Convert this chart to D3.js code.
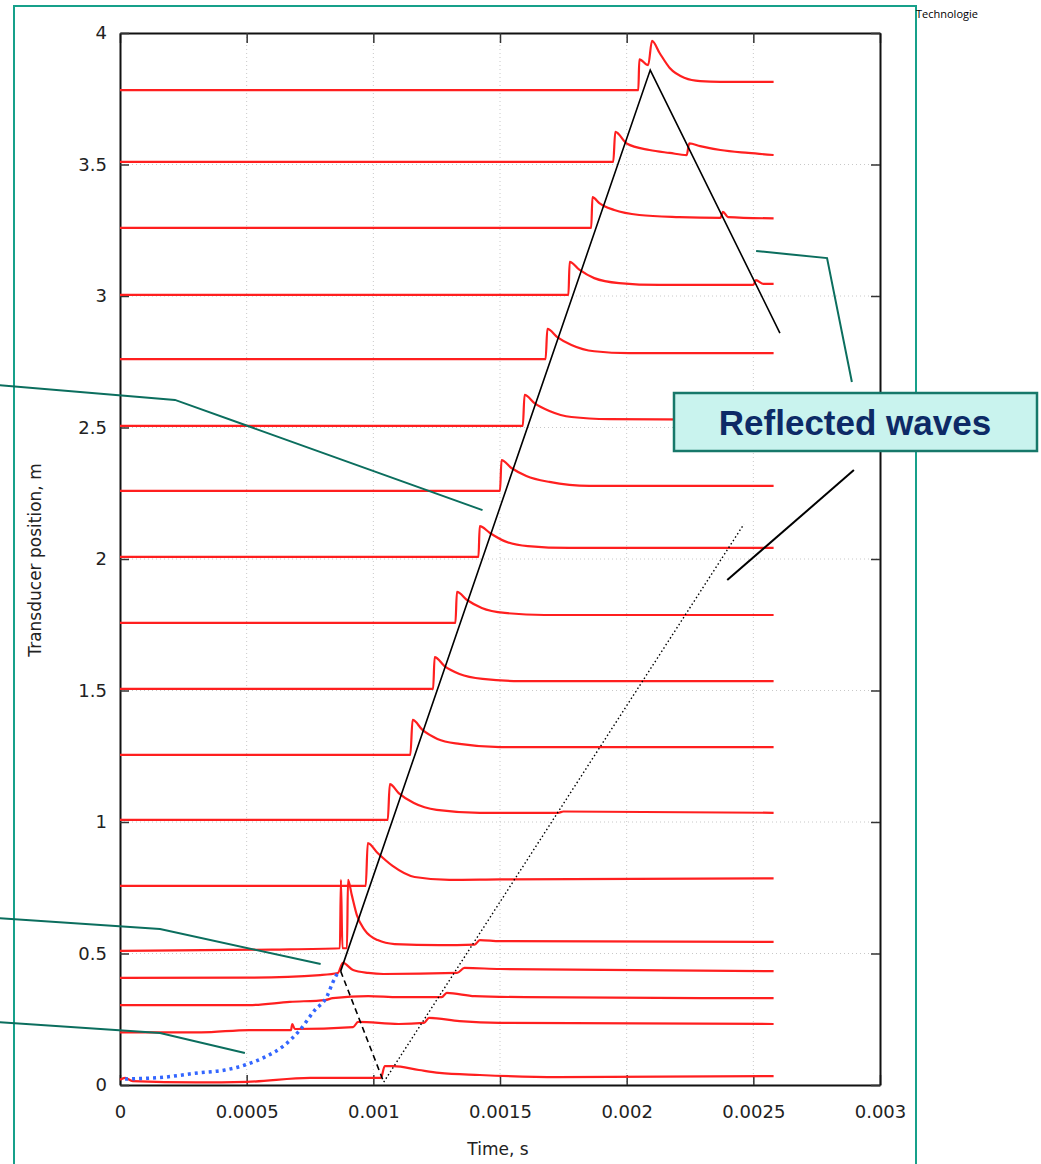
<!DOCTYPE html>
<html>
<head>
<meta charset="utf-8">
<script src="https://cdn.jsdelivr.net/npm/d3@7"></script>
<style>
  body { margin: 0; background: #fff; }
  svg { display: block; }
</style>
</head>
<body>
<div id="chart"></div>
<script>
// axis ticks
const xTicks = [0, 0.0005, 0.001, 0.0015, 0.002, 0.0025, 0.003];
const xTickLabels = ['0', '0.0005', '0.001', '0.0015', '0.002', '0.0025', '0.003'];
const yTicks = [0, 0.5, 1, 1.5, 2, 2.5, 3, 3.5, 4];
const yTickLabels = ['0', '0.5', '1', '1.5', '2', '2.5', '3', '3.5', '4'];

// pressure traces, one per transducer: [time s, position m]
const traces = [
  [[0, 0.02], [0.00002, 0.027], [0.00005, 0.015], [0.0003, 0.01], [0.0005, 0.012], [0.00075, 0.027], [0.00103, 0.027], [0.001045, 0.072],
   [0.00108, 0.072], [0.00118, 0.057], [0.00126, 0.046], [0.00142, 0.038], [0.00173, 0.03], [0.00258, 0.034]],
  [[0, 0.2], [0.00032, 0.2], [0.00051, 0.209], [0.000675, 0.209], [0.00068, 0.232], [0.00069, 0.213], [0.00092, 0.22],
   [0.00094, 0.24], [0.00110, 0.232], [0.00120, 0.236], [0.00122, 0.255], [0.00134, 0.243], [0.0015, 0.236], [0.00258, 0.232]],
  [[0, 0.304], [0.00051, 0.304], [0.00067, 0.316], [0.00081, 0.323], [0.00084, 0.33], [0.00098, 0.338], [0.00110, 0.334],
   [0.00127, 0.334], [0.00129, 0.35], [0.0014, 0.338], [0.0016, 0.334], [0.00258, 0.33]],
  [[0, 0.407], [0.0005, 0.408], [0.00079, 0.418], [0.00086, 0.426], [0.00088, 0.464], [0.00092, 0.437], [0.00098, 0.426],
   [0.00104, 0.422], [0.00133, 0.426], [0.00136, 0.445], [0.00150, 0.441], [0.00258, 0.433]],
  [[0, 0.51], [0.0006, 0.515], [0.000868, 0.52], [0.000872, 0.78], [0.000878, 0.52], [0.000896, 0.52], [0.0009, 0.78],
   [0.000915, 0.722], [0.000935, 0.646], [0.000966, 0.589], [0.001017, 0.551], [0.001084, 0.536], [0.00126, 0.532],
   [0.0014, 0.534], [0.00142, 0.551], [0.0015, 0.547], [0.00258, 0.544]],
  [[0, 0.757], [0.00097, 0.757], [0.000978, 0.92], [0.001017, 0.882], [0.001076, 0.833], [0.001163, 0.791],
   [0.0013, 0.78], [0.0015, 0.782], [0.00258, 0.786]],
  [[0, 1.008], [0.001057, 1.008], [0.001065, 1.144], [0.0011, 1.11], [0.00116, 1.072], [0.00125, 1.046],
   [0.00142, 1.035], [0.00173, 1.035], [0.00175, 1.04], [0.00258, 1.035]],
  [[0, 1.255], [0.001146, 1.255], [0.001155, 1.388], [0.001194, 1.35], [0.001253, 1.316], [0.00134, 1.297],
   [0.0015, 1.285], [0.00258, 1.285]],
  [[0, 1.506], [0.001236, 1.506], [0.001242, 1.627], [0.001281, 1.593], [0.00134, 1.563], [0.001431, 1.544],
   [0.001577, 1.536], [0.00258, 1.536]],
  [[0, 1.757], [0.001324, 1.757], [0.00133, 1.875], [0.00137, 1.844], [0.001428, 1.814], [0.001519, 1.795],
   [0.001675, 1.787], [0.00258, 1.787]],
  [[0, 2.008], [0.001415, 2.008], [0.00142, 2.125], [0.00146, 2.099], [0.001518, 2.068], [0.00161, 2.049],
   [0.001774, 2.042], [0.00258, 2.042]],
  [[0, 2.259], [0.0015, 2.259], [0.001506, 2.376], [0.001545, 2.346], [0.001604, 2.316], [0.001695, 2.293],
   [0.001853, 2.278], [0.00258, 2.278]],
  [[0, 2.506], [0.00159, 2.506], [0.001597, 2.624], [0.001636, 2.593], [0.001695, 2.563], [0.001782, 2.54],
   [0.001931, 2.532], [0.00258, 2.529]],
  [[0, 2.76], [0.00168, 2.76], [0.001687, 2.875], [0.001726, 2.844], [0.001782, 2.814], [0.001872, 2.79],
   [0.00201, 2.783], [0.00258, 2.783]],
  [[0, 3.004], [0.00177, 3.004], [0.001775, 3.13], [0.001813, 3.1], [0.001872, 3.068], [0.00197, 3.049],
   [0.002129, 3.042], [0.0025, 3.042], [0.00251, 3.06], [0.00254, 3.046], [0.00258, 3.046]],
  [[0, 3.259], [0.00186, 3.259], [0.001865, 3.376], [0.001892, 3.353], [0.001951, 3.327], [0.00205, 3.308],
   [0.002207, 3.3], [0.00237, 3.297], [0.00238, 3.32], [0.0024, 3.3], [0.00258, 3.295]],
  [[0, 3.51], [0.001947, 3.51], [0.001955, 3.624], [0.002, 3.58], [0.00209, 3.555], [0.00217, 3.544],
   [0.002237, 3.536], [0.002247, 3.58], [0.00229, 3.57], [0.00237, 3.555], [0.00248, 3.544], [0.00258, 3.536]],
  [[0, 3.783], [0.002046, 3.783], [0.00205, 3.9], [0.002085, 3.878], [0.0021, 3.97], [0.00213, 3.924],
   [0.00217, 3.867], [0.00223, 3.829], [0.00229, 3.817], [0.00237, 3.814], [0.00258, 3.814]]
];

// wave-front guide lines
const incidentFront = [[0.000871, 0.433], [0.002093, 3.859], [0.002605, 2.859]];
const dashedFront = [[0.000871, 0.433], [0.001041, 0.011]];
const reflectedFront = [[0.001041, 0.011], [0.002463, 2.133]];
const ignitionCurve = [[0.00002, 0.023], [0.000177, 0.03], [0.000307, 0.046], [0.000414, 0.057], [0.000493, 0.076],
  [0.000571, 0.106], [0.00065, 0.152], [0.00071, 0.209], [0.000769, 0.285], [0.000816, 0.335], [0.00084, 0.39],
  [0.000859, 0.426]];

// callout leaders (data units, may run outside the axes)
const calloutLines = [
  [[-0.00049, 2.662], [0.000217, 2.605], [0.001431, 2.186]],
  [[-0.00049, 0.635], [0.000158, 0.593], [0.000792, 0.46]],
  [[-0.00049, 0.24], [0.000158, 0.198], [0.000493, 0.122]],
  [[0.002511, 3.171], [0.002791, 3.144], [0.002889, 2.673]]
];
const reflectedPointer = [[0.002397, 1.92], [0.002897, 2.338]];

const W = 1041, H = 1164;
const margin = { left: 120, right: 1041 - 880, top: 33, bottom: 1164 - 1085 };
const width = W - margin.left - margin.right;
const height = H - margin.top - margin.bottom;

const svg = d3.select('#chart').append('svg')
  .attr('width', W)
  .attr('height', H);

// slide frame
svg.append('rect')
  .attr('x', 14).attr('y', 6)
  .attr('width', 902).attr('height', 1200)
  .attr('fill', 'none')
  .attr('stroke', '#17a08a')
  .attr('stroke-width', 2);

svg.append('text')
  .attr('x', 916).attr('y', 18)
  .style('font-family', 'Open Sans, sans-serif')
  .style('font-size', '11px')
  .attr('fill', '#000')
  .text('Technologie');

const x = d3.scaleLinear().domain([0, 0.003]).range([0, width]);
const y = d3.scaleLinear().domain([0, 4]).range([height, 0]);

const plot = svg.append('g')
  .attr('transform', `translate(${margin.left},${margin.top})`);

// grid
plot.append('g').selectAll('line.gx')
  .data(xTicks.slice(1, -1))
  .enter().append('line')
  .attr('x1', d => x(d)).attr('x2', d => x(d))
  .attr('y1', 0).attr('y2', height)
  .attr('stroke', '#c8c8c8').attr('stroke-width', 1)
  .attr('stroke-dasharray', '1,3');

plot.append('g').selectAll('line.gy')
  .data(yTicks.slice(1, -1))
  .enter().append('line')
  .attr('x1', 0).attr('x2', width)
  .attr('y1', d => y(d)).attr('y2', d => y(d))
  .attr('stroke', '#c8c8c8').attr('stroke-width', 1)
  .attr('stroke-dasharray', '1,3');

// axes: gnuplot style inward ticks, mirrored
const tickFont = 'DejaVu Sans, sans-serif';
const xAxis = plot.append('g')
  .attr('transform', `translate(0,${height})`)
  .call(d3.axisBottom(x).tickValues(xTicks).tickSizeInner(-10).tickSizeOuter(0).tickPadding(20)
    .tickFormat((d, i) => xTickLabels[i]));
const xAxisTop = plot.append('g')
  .call(d3.axisTop(x).tickValues(xTicks).tickSizeInner(-10).tickSizeOuter(0).tickFormat(''));
const yAxis = plot.append('g')
  .call(d3.axisLeft(y).tickValues(yTicks).tickSizeInner(-9).tickSizeOuter(0).tickPadding(13)
    .tickFormat((d, i) => yTickLabels[i]));
const yAxisRight = plot.append('g')
  .attr('transform', `translate(${width},0)`)
  .call(d3.axisRight(y).tickValues(yTicks).tickSizeInner(-9).tickSizeOuter(0).tickFormat(''));

[xAxis, xAxisTop, yAxis, yAxisRight].forEach(a => {
  a.select('.domain').attr('stroke', '#111').attr('stroke-width', 2);
  a.selectAll('.tick line').attr('stroke', '#333').attr('stroke-width', 1.5);
  a.selectAll('.tick text')
    .style('font-family', tickFont)
    .style('font-size', '18px')
    .attr('fill', '#222');
});

// red pressure traces
const line = d3.line()
  .x(d => x(d[0]))
  .y(d => y(d[1]))
  .curve(d3.curveMonotoneX);

plot.append('g').selectAll('path.trace')
  .data(traces)
  .enter().append('path')
  .attr('class', 'trace')
  .attr('d', line)
  .attr('fill', 'none')
  .attr('stroke', '#ff1f1f')
  .attr('stroke-width', 2.2)
  .attr('stroke-linejoin', 'round');

const straight = d3.line().x(d => x(d[0])).y(d => y(d[1]));

// wave fronts
plot.append('path')
  .attr('d', straight(incidentFront))
  .attr('fill', 'none').attr('stroke', '#000').attr('stroke-width', 1.6);
plot.append('path')
  .attr('d', straight(dashedFront))
  .attr('fill', 'none').attr('stroke', '#000').attr('stroke-width', 1.6)
  .attr('stroke-dasharray', '6,4');
plot.append('path')
  .attr('d', straight(reflectedFront))
  .attr('fill', 'none').attr('stroke', '#000').attr('stroke-width', 1.4)
  .attr('stroke-dasharray', '1.5,2.5');

// flame front (blue dots)
plot.append('path')
  .attr('d', d3.line().x(d => x(d[0])).y(d => y(d[1])).curve(d3.curveMonotoneX)(ignitionCurve))
  .attr('fill', 'none').attr('stroke', '#3366ff').attr('stroke-width', 3.5)
  .attr('stroke-dasharray', '3,4');

// callout leader lines
plot.append('g').selectAll('path.callout')
  .data(calloutLines)
  .enter().append('path')
  .attr('d', straight)
  .attr('fill', 'none')
  .attr('stroke', '#0b6e5e')
  .attr('stroke-width', 2);

plot.append('path')
  .attr('d', straight(reflectedPointer))
  .attr('fill', 'none').attr('stroke', '#000').attr('stroke-width', 2);

// axis labels
svg.append('text')
  .attr('x', 498).attr('y', 1155)
  .attr('text-anchor', 'middle')
  .style('font-family', tickFont)
  .style('font-size', '17px')
  .attr('fill', '#222')
  .text('Time, s');

svg.append('text')
  .attr('transform', 'translate(41,560) rotate(-90)')
  .attr('text-anchor', 'middle')
  .style('font-family', tickFont)
  .style('font-size', '17px')
  .attr('fill', '#222')
  .text('Transducer position, m');

// "Reflected waves" label box
const box = svg.append('g');
box.append('rect')
  .attr('x', 674).attr('y', 393)
  .attr('width', 363).attr('height', 58)
  .attr('fill', '#c9f3ee')
  .attr('stroke', '#17786a')
  .attr('stroke-width', 2.5);
box.append('text')
  .attr('x', 855).attr('y', 435)
  .attr('text-anchor', 'middle')
  .style('font-family', 'Liberation Sans, Arial, sans-serif')
  .style('font-weight', 'bold')
  .style('font-size', '35px')
  .attr('fill', '#0d2a66')
  .text('Reflected waves');
</script>
</body>
</html>
